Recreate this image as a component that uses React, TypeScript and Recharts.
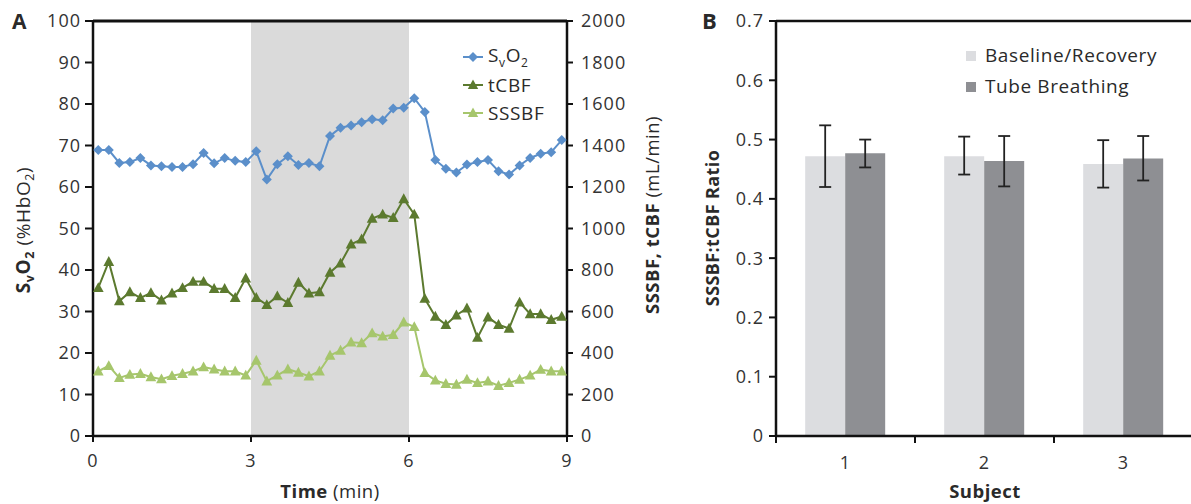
import React from 'react';
import {
  ComposedChart,
  Line,
  XAxis,
  YAxis,
  ReferenceArea,
  ReferenceLine,
  BarChart,
  Bar,
  ErrorBar,
  Customized,
} from 'recharts';

const FONT = '"Open Sans", "DejaVu Sans", sans-serif';

// ---------- Panel A data ----------
const timeMin = [
  0.1, 0.3, 0.5, 0.7, 0.9, 1.1, 1.3, 1.5, 1.7, 1.9, 2.1, 2.3, 2.5, 2.7, 2.9,
  3.1, 3.3, 3.5, 3.7, 3.9, 4.1, 4.3, 4.5, 4.7, 4.9, 5.1, 5.3, 5.5, 5.7, 5.9,
  6.1, 6.3, 6.5, 6.7, 6.9, 7.1, 7.3, 7.5, 7.7, 7.9, 8.1, 8.3, 8.5, 8.7, 8.9,
];
const svo2 = [
  68.9, 68.9, 65.8, 66, 67, 65.2, 65, 64.8, 64.8, 65.5, 68.2, 65.7, 67, 66.3, 66,
  68.6, 61.8, 65.5, 67.4, 65.3, 65.8, 65, 72.3, 74.3, 74.8, 75.6, 76.3, 76.1, 78.9, 79.1,
  81.4, 78.1, 66.5, 64.4, 63.5, 65.4, 66, 66.5, 63.8, 63, 65.2, 67, 68, 68.4, 71.3,
];
const tcbf = [
  714, 840, 650, 694, 666, 690, 654, 688, 714, 744, 744, 710, 710, 666, 760,
  666, 632, 674, 642, 740, 688, 694, 788, 832, 924, 948, 1048, 1068, 1052, 1142,
  1068, 662, 576, 536, 582, 616, 474, 572, 536, 518, 644, 588, 588, 560, 576,
];
const sssbf = [
  312, 338, 280, 296, 300, 284, 274, 290, 300, 312, 332, 322, 312, 312, 292,
  364, 264, 292, 322, 306, 288, 312, 388, 412, 452, 448, 496, 480, 488, 548,
  526, 304, 268, 252, 248, 272, 256, 264, 242, 256, 272, 292, 320, 312, 312,
];
const xTicksA = [0, 3, 6, 9];
const leftTicksA = [0, 10, 20, 30, 40, 50, 60, 70, 80, 90, 100];
const rightTicksA = [0, 200, 400, 600, 800, 1000, 1200, 1400, 1600, 1800, 2000];

// ---------- Panel B data ----------
const subjects = ['1', '2', '3'];
const baseline = [0.472, 0.472, 0.459];
const baselineLow = [0.42, 0.441, 0.419];
const baselineHigh = [0.524, 0.505, 0.499];
const tube = [0.477, 0.464, 0.468];
const tubeLow = [0.453, 0.421, 0.431];
const tubeHigh = [0.5, 0.506, 0.506];
const yTicksB = [0, 0.1, 0.2, 0.3, 0.4, 0.5, 0.6, 0.7];

const dataA = timeMin.map((t, i) => ({ t, svo2: svo2[i], tcbf: tcbf[i], sssbf: sssbf[i] }));
const dataB = subjects.map((s, i) => ({
  subject: s,
  baseline: baseline[i],
  baselineErr: [baseline[i] - baselineLow[i], baselineHigh[i] - baseline[i]],
  tube: tube[i],
  tubeErr: [tube[i] - tubeLow[i], tubeHigh[i] - tube[i]],
}));

const BLUE = '#5b8fca';
const DARK_GREEN = '#5c7a2f';
const LIGHT_GREEN = '#a6c66c';
const BASE_GRAY = '#dcdde0';
const TUBE_GRAY = '#8e8f93';
const TEXT = '#2a2a2a';

const tickStyle = { fontSize: 18, fill: '#333', fontFamily: FONT, letterSpacing: 1.0 };
const axisLineStyle = { stroke: '#111', strokeWidth: 2.5 };
const tickLineStyle = { stroke: '#111', strokeWidth: 2 };

const Diamond = (props: any) => {
  const { cx, cy, fill, index } = props;
  if (cx == null || cy == null) return <g key={index} />;
  const r = 5;
  return (
    <polygon
      key={index}
      points={`${cx},${cy - r} ${cx + r},${cy} ${cx},${cy + r} ${cx - r},${cy}`}
      fill={fill}
    />
  );
};

const makeTriangle = (color: string) => (props: any) => {
  const { cx, cy, index } = props;
  if (cx == null || cy == null) return <g key={index} />;
  const w = 5.4;
  return (
    <polygon
      key={index}
      points={`${cx},${cy - 5.7} ${cx + w},${cy + 4.2} ${cx - w},${cy + 4.2}`}
      fill={color}
    />
  );
};
const DarkTriangle = makeTriangle(DARK_GREEN);
const LightTriangle = makeTriangle(LIGHT_GREEN);

const LegendA = () => {
  const row = (marker: React.ReactNode, label: React.ReactNode, color: string) => (
    <div style={{ display: 'flex', alignItems: 'center', height: 28 }}>
      <svg width={22} height={14} style={{ marginRight: 3 }}>
        <line x1={0} y1={7} x2={20} y2={7} stroke={color} strokeWidth={2} />
        {marker}
      </svg>
      <span>{label}</span>
    </div>
  );
  return (
    <div style={{ fontFamily: FONT, fontSize: 19, color: TEXT, letterSpacing: 0.6, lineHeight: 1 }}>
      {row(
        <polygon points="10,2 15,7 10,12 5,7" fill={BLUE} />,
        <span>
          S<sub style={{ fontSize: 12 }}>v</sub>O<sub style={{ fontSize: 12 }}>2</sub>
        </span>,
        BLUE,
      )}
      {row(<polygon points="10,1.5 15.2,11 4.8,11" fill={DARK_GREEN} />, 'tCBF', DARK_GREEN)}
      {row(<polygon points="10,1.5 15.2,11 4.8,11" fill={LIGHT_GREEN} />, 'SSSBF', LIGHT_GREEN)}
    </div>
  );
};

const LegendB = () => {
  const row = (color: string, label: string) => (
    <div style={{ display: 'flex', alignItems: 'center', height: 31 }}>
      <div style={{ width: 10, height: 10, background: color, marginRight: 9 }} />
      <span>{label}</span>
    </div>
  );
  return (
    <div style={{ fontFamily: FONT, fontSize: 19, color: TEXT, letterSpacing: 0.6, lineHeight: 1 }}>
      {row(BASE_GRAY, 'Baseline/Recovery')}
      {row(TUBE_GRAY, 'Tube Breathing')}
    </div>
  );
};

const LeftLabelA = () => (
  <text transform="rotate(-90)" x={-230} y={30} textAnchor="middle" fontFamily={FONT} fontSize={19} fill={TEXT} letterSpacing={0.6}>
    <tspan fontWeight={700}>S</tspan>
    <tspan fontWeight={700} fontSize={12.5} dy={4}>v</tspan>
    <tspan fontWeight={700} dy={-4}>O</tspan>
    <tspan fontWeight={700} fontSize={12.5} dy={4}>2</tspan>
    <tspan dy={-4}> (%HbO</tspan>
    <tspan fontSize={12.5} dy={4}>2</tspan>
    <tspan dy={-4}>)</tspan>
  </text>
);

const RightLabelA = () => (
  <text transform="rotate(-90)" x={-215} y={659} textAnchor="middle" fontFamily={FONT} fontSize={18.5} fill={TEXT} letterSpacing={0.5}>
    <tspan fontWeight={700}>SSSBF, tCBF</tspan>
    <tspan> (mL/min)</tspan>
  </text>
);

const ExtrasA = () => (
  <g>
    <text x={12} y={29} fontFamily={FONT} fontSize={21} fontWeight={700} fill={TEXT}>A</text>
    <text x={330} y={498} textAnchor="middle" fontFamily={FONT} fontSize={18.5} fill={TEXT} letterSpacing={0.5}>
      <tspan fontWeight={700}>Time</tspan>
      <tspan> (min)</tspan>
    </text>
  </g>
);

const ExtrasB = () => (
  <g>
    <text x={2} y={29} fontFamily={FONT} fontSize={22} fontWeight={700} fill={TEXT}>B</text>
    <text x={285} y={498} textAnchor="middle" fontFamily={FONT} fontSize={18.5} fontWeight={700} fill={TEXT} letterSpacing={0.5}>
      Subject
    </text>
    <text transform="rotate(-90)" x={-228} y={19} textAnchor="middle" fontFamily={FONT} fontSize={18} fontWeight={700} fill={TEXT} letterSpacing={0.4}>
      SSSBF:tCBF Ratio
    </text>
  </g>
);

const SubjectTick = (props: any) => {
  const { x, y, payload } = props;
  const off = payload && typeof payload.offset === 'number' && payload.offset > 0 ? payload.offset : 69.5;
  return (
    <g>
      <line x1={x - off} x2={x - off} y1={y - 20} y2={y - 13} stroke="#111" strokeWidth={2} />
      <text x={x} y={y} dy="0.71em" textAnchor="middle" fontFamily={FONT} fontSize={18} fill="#333" letterSpacing={1.0}>
        {payload.value}
      </text>
    </g>
  );
};

export default function App() {
  return (
    <div style={{ position: 'absolute', left: 0, top: 0, width: 1191, height: 504, overflow: 'hidden', background: '#fff' }}>
      <div style={{ position: 'absolute', left: 0, top: 0 }}>
        <ComposedChart width={700} height={504} data={dataA} margin={{ top: 21, right: 0, bottom: 0, left: 0 }}>
          <ReferenceArea yAxisId="left" x1={3} x2={6} y1={0} y2={100} fill="#dadada" fillOpacity={1} stroke="none" />
          <XAxis
            dataKey="t"
            type="number"
            domain={[0, 9]}
            ticks={xTicksA}
            height={68}
            tick={tickStyle}
            tickSize={6}
            tickMargin={12}
            axisLine={axisLineStyle}
            tickLine={tickLineStyle}
          />
          <YAxis
            yAxisId="left"
            domain={[0, 100]}
            ticks={leftTicksA}
            width={93}
            tick={tickStyle}
            tickSize={8}
            tickMargin={4}
            axisLine={axisLineStyle}
            tickLine={tickLineStyle}
            label={<LeftLabelA />}
          />
          <YAxis
            yAxisId="right"
            orientation="right"
            domain={[0, 2000]}
            ticks={rightTicksA}
            width={133}
            tick={tickStyle}
            tickSize={6}
            tickMargin={8}
            axisLine={axisLineStyle}
            tickLine={tickLineStyle}
            label={<RightLabelA />}
          />
          <ReferenceLine yAxisId="left" y={100} stroke="#111" strokeWidth={3} />
          <Line
            yAxisId="left"
            dataKey="svo2"
            stroke={BLUE}
            strokeWidth={2}
            fill={BLUE}
            dot={<Diamond fill={BLUE} />}
            isAnimationActive={false}
          />
          <Line
            yAxisId="right"
            dataKey="tcbf"
            stroke={DARK_GREEN}
            strokeWidth={2}
            dot={DarkTriangle}
            isAnimationActive={false}
          />
          <Line
            yAxisId="right"
            dataKey="sssbf"
            stroke={LIGHT_GREEN}
            strokeWidth={2}
            dot={LightTriangle}
            isAnimationActive={false}
          />
          <Customized component={<ExtrasA />} />
        </ComposedChart>
        <div style={{ position: 'absolute', left: 463, top: 43 }}>
          <LegendA />
        </div>
      </div>
      <div style={{ position: 'absolute', left: 700, top: 0 }}>
        <BarChart
          width={493}
          height={504}
          data={dataB}
          margin={{ top: 21, right: 0, bottom: 0, left: 0 }}
          barCategoryGap="21%"
          barGap={0}
        >
          <XAxis
            dataKey="subject"
            height={68}
            tick={<SubjectTick />}
            tickSize={6}
            tickMargin={14}
            tickLine={false}
            axisLine={axisLineStyle}
          />
          <YAxis
            domain={[0, 0.7]}
            ticks={yTicksB}
            width={76}
            tick={tickStyle}
            tickSize={7}
            tickMargin={5}
            tickFormatter={(v: number) => (v === 0 ? '0' : v.toFixed(1))}
            axisLine={axisLineStyle}
            tickLine={tickLineStyle}
          />
          <ReferenceLine y={0.7} stroke="#111" strokeWidth={2.5} />
          <Bar dataKey="baseline" fill={BASE_GRAY} isAnimationActive={false}>
            <ErrorBar dataKey="baselineErr" width={6} strokeWidth={1.8} stroke="#222" direction="y" />
          </Bar>
          <Bar dataKey="tube" fill={TUBE_GRAY} isAnimationActive={false}>
            <ErrorBar dataKey="tubeErr" width={6} strokeWidth={1.8} stroke="#222" direction="y" />
          </Bar>
          <Customized component={<ExtrasB />} />
        </BarChart>
        <div style={{ position: 'absolute', left: 266, top: 40 }}>
          <LegendB />
        </div>
      </div>
    </div>
  );
}
